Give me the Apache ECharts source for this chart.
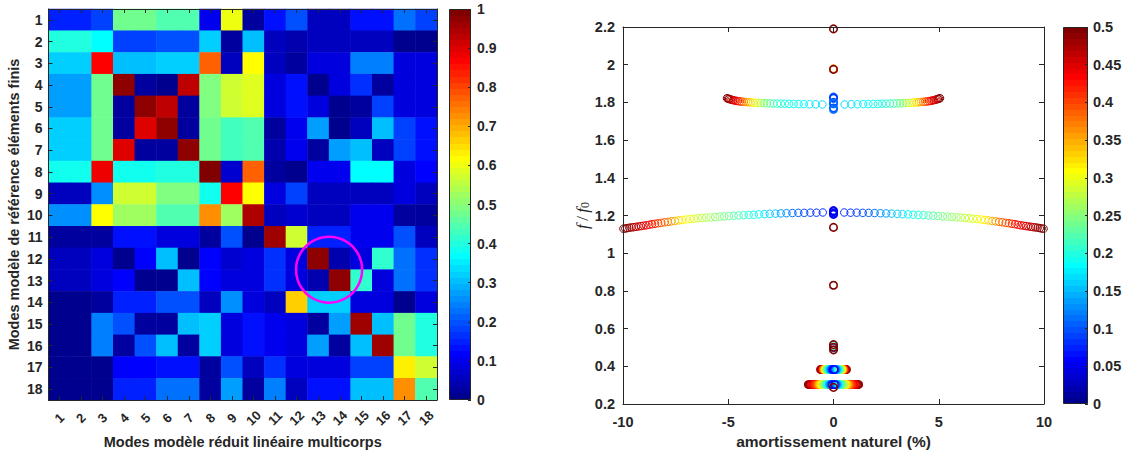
<!DOCTYPE html>
<html>
<head>
<meta charset="utf-8">
<script src="https://cdn.jsdelivr.net/npm/echarts@6/dist/echarts.min.js"></script>
<style>
html,body{margin:0;padding:0;background:#fff;}
#c{width:1124px;height:453px;}
</style>
</head>
<body>
<div id="c"></div>
<script>
// ---------------- DATA ----------------
const modes = ['1','2','3','4','5','6','7','8','9','10','11','12','13','14','15','16','17','18'];
const xTitleLeft = 'Modes modèle réduit linéaire multicorps';
const yTitleLeft = 'Modes modèle de référence éléments finis';
const xTitleRight = 'amortissement naturel (%)';

// MAC matrix, one array per reference mode (row), columns = reduced model modes
const macRows = [
  [0.15,0.15,0.18,0.47,0.47,0.44,0.44,0.10,0.60,0.02,0.13,0.20,0.05,0.05,0.13,0.13,0.22,0.18],
  [0.40,0.40,0.36,0.18,0.18,0.20,0.20,0.32,0.02,0.30,0.05,0.04,0.06,0.06,0.05,0.05,0.01,0.01],
  [0.32,0.32,0.86,0.30,0.30,0.32,0.32,0.77,0.05,0.62,0.05,0.03,0.09,0.09,0.24,0.24,0.08,0.08],
  [0.27,0.27,0.47,0.98,0.02,0.01,0.93,0.49,0.57,0.58,0.08,0.13,0.01,0.08,0.16,0.02,0.09,0.08],
  [0.27,0.27,0.47,0.02,0.98,0.93,0.02,0.49,0.57,0.58,0.08,0.13,0.08,0.01,0.02,0.18,0.09,0.08],
  [0.32,0.32,0.47,0.02,0.90,0.98,0.02,0.47,0.43,0.45,0.03,0.10,0.27,0.01,0.06,0.30,0.18,0.13],
  [0.32,0.32,0.47,0.90,0.03,0.03,0.98,0.47,0.43,0.45,0.04,0.10,0.02,0.27,0.30,0.06,0.18,0.13],
  [0.38,0.38,0.89,0.38,0.38,0.40,0.40,0.99,0.07,0.78,0.03,0.01,0.10,0.10,0.36,0.36,0.09,0.11],
  [0.05,0.05,0.25,0.57,0.57,0.49,0.49,0.38,0.87,0.61,0.08,0.18,0.06,0.06,0.05,0.05,0.08,0.05],
  [0.25,0.25,0.62,0.52,0.52,0.45,0.45,0.73,0.52,0.94,0.05,0.07,0.06,0.06,0.10,0.10,0.02,0.02],
  [0.03,0.03,0.02,0.13,0.13,0.08,0.08,0.03,0.20,0.01,0.96,0.57,0.15,0.15,0.10,0.10,0.20,0.06],
  [0.06,0.06,0.08,0.01,0.12,0.30,0.01,0.12,0.07,0.08,0.16,0.08,0.98,0.04,0.09,0.41,0.22,0.16],
  [0.06,0.06,0.08,0.12,0.01,0.01,0.30,0.12,0.08,0.08,0.16,0.08,0.04,0.98,0.41,0.09,0.22,0.16],
  [0.01,0.01,0.02,0.15,0.15,0.20,0.20,0.06,0.25,0.08,0.05,0.66,0.32,0.32,0.08,0.08,0.01,0.08],
  [0.01,0.01,0.24,0.20,0.02,0.02,0.30,0.32,0.08,0.13,0.10,0.08,0.02,0.27,0.96,0.30,0.47,0.40],
  [0.01,0.01,0.24,0.02,0.20,0.30,0.02,0.32,0.08,0.13,0.10,0.08,0.27,0.02,0.30,0.96,0.47,0.40],
  [0.01,0.01,0.01,0.12,0.12,0.13,0.13,0.03,0.20,0.06,0.16,0.08,0.08,0.08,0.18,0.18,0.64,0.57],
  [0.01,0.01,0.01,0.15,0.15,0.22,0.22,0.02,0.28,0.02,0.24,0.06,0.13,0.13,0.30,0.30,0.73,0.45]
];
const macMin = 0, macMax = 1, macStep = 0.1;
// highlighted block: cells (12,13)-(13,14)
const highlight = {colA: 13, colB: 14, rowA: 12, rowB: 13, radiusCells: 1.53};

// Root locus: lower branch (f/f0 ~ 1.2)
const lowLeftX = [-9.98,-9.89,-9.80,-9.70,-9.59,-9.49,-9.38,-9.26,-9.14,-9.02,-8.89,-8.75,-8.62,-8.48,-8.33,-8.18,-8.02,-7.87,-7.70,-7.54,-7.36,-7.19,-7.01,-6.82,-6.63,-6.44,-6.24,-6.04,-5.84,-5.62,-5.41,-5.19,-4.97,-4.74,-4.51,-4.27,-4.03,-3.79,-3.54,-3.28,-3.03,-2.76,-2.50,-2.23,-1.95,-1.67,-1.39,-1.10,-0.81,-0.51];
const lowRightX = [9.98,9.89,9.80,9.70,9.59,9.49,9.38,9.26,9.14,9.02,8.89,8.75,8.62,8.48,8.33,8.18,8.02,7.87,7.70,7.54,7.36,7.19,7.01,6.82,6.63,6.44,6.24,6.04,5.84,5.62,5.41,5.19,4.97,4.74,4.51,4.27,4.03,3.79,3.54,3.28,3.03,2.76,2.50,2.23,1.95,1.67,1.39,1.10,0.81,0.51];
const lowY = [1.130,1.131,1.133,1.135,1.137,1.138,1.140,1.142,1.144,1.146,1.148,1.151,1.154,1.156,1.159,1.161,1.164,1.166,1.169,1.171,1.174,1.176,1.179,1.181,1.183,1.185,1.187,1.189,1.190,1.192,1.194,1.195,1.197,1.199,1.200,1.202,1.203,1.204,1.206,1.207,1.209,1.210,1.211,1.212,1.213,1.214,1.214,1.215,1.215,1.216];
const lowC = [0.50,0.495,0.49,0.485,0.48,0.47,0.465,0.46,0.455,0.45,0.44,0.435,0.425,0.415,0.405,0.395,0.385,0.375,0.36,0.345,0.33,0.32,0.31,0.30,0.29,0.285,0.275,0.27,0.265,0.255,0.25,0.24,0.235,0.225,0.22,0.21,0.20,0.19,0.18,0.17,0.16,0.15,0.14,0.125,0.115,0.105,0.10,0.09,0.085,0.08];

// upper branch (f/f0 ~ 1.8)
const upLeftX = [-5.06,-5.01,-4.96,-4.90,-4.84,-4.77,-4.70,-4.62,-4.54,-4.45,-4.36,-4.26,-4.16,-4.05,-3.94,-3.82,-3.70,-3.57,-3.44,-3.30,-3.16,-3.01,-2.85,-2.68,-2.50,-2.31,-2.11,-1.89,-1.66,-1.41,-1.14,-0.85,-0.53];
const upRightX = [5.06,5.01,4.96,4.90,4.84,4.77,4.70,4.62,4.54,4.45,4.36,4.26,4.16,4.05,3.94,3.82,3.70,3.57,3.44,3.30,3.16,3.01,2.85,2.68,2.50,2.31,2.11,1.89,1.66,1.41,1.14,0.85,0.53];
const upY = [1.822,1.820,1.818,1.816,1.814,1.812,1.810,1.808,1.807,1.805,1.804,1.803,1.802,1.801,1.800,1.799,1.798,1.797,1.797,1.796,1.795,1.795,1.794,1.794,1.793,1.793,1.792,1.792,1.791,1.791,1.790,1.790,1.789];
const upC = [0.50,0.495,0.49,0.48,0.47,0.46,0.45,0.44,0.43,0.42,0.40,0.38,0.365,0.35,0.33,0.315,0.30,0.285,0.27,0.255,0.24,0.23,0.22,0.21,0.205,0.20,0.195,0.19,0.185,0.18,0.175,0.17,0.165];

// low-frequency bands
const bandHighY = 0.383;
const bandHighLeftX = [-0.62,-0.60,-0.58,-0.56,-0.54,-0.52,-0.50,-0.48,-0.46,-0.44,-0.42,-0.40,-0.37,-0.34,-0.31,-0.28,-0.25,-0.22,-0.19,-0.16,-0.13,-0.10,-0.07,-0.04,-0.02];
const bandHighRightX = [0.62,0.60,0.58,0.56,0.54,0.52,0.50,0.48,0.46,0.44,0.42,0.40,0.37,0.34,0.31,0.28,0.25,0.22,0.19,0.16,0.13,0.10,0.07,0.04,0.02];
const bandHighC = [0.50,0.49,0.48,0.47,0.46,0.44,0.42,0.40,0.38,0.36,0.34,0.32,0.30,0.28,0.26,0.24,0.22,0.20,0.18,0.16,0.14,0.12,0.10,0.08,0.06];
const bandLowY = 0.303;
const bandLowLeftX = [-1.20,-1.16,-1.12,-1.08,-1.04,-1.00,-0.96,-0.92,-0.88,-0.84,-0.80,-0.76,-0.72,-0.68,-0.64,-0.60,-0.56,-0.52,-0.48,-0.44,-0.40,-0.36,-0.32,-0.28,-0.24,-0.20,-0.16,-0.12,-0.08,-0.04];
const bandLowRightX = [1.20,1.16,1.12,1.08,1.04,1.00,0.96,0.92,0.88,0.84,0.80,0.76,0.72,0.68,0.64,0.60,0.56,0.52,0.48,0.44,0.40,0.36,0.32,0.28,0.24,0.20,0.16,0.12,0.08,0.04];
const bandLowC = [0.50,0.49,0.48,0.47,0.46,0.45,0.44,0.43,0.42,0.41,0.40,0.385,0.37,0.355,0.34,0.325,0.31,0.295,0.28,0.265,0.25,0.235,0.22,0.20,0.18,0.16,0.14,0.11,0.08,0.05];

// undamped points (x = 0)
const axisY = [1.828,1.822,1.800,1.793,1.770,1.764,1.226,1.221,1.212,1.206,0.512,0.498,2.190,1.978,1.975,1.137,0.830,0.515,0.501,0.487,0.288];
const axisC = [0.10,0.09,0.10,0.11,0.10,0.11,0.06,0.05,0.06,0.05,0.20,0.12,0.50,0.36,0.50,0.50,0.50,0.50,0.50,0.50,0.50];

const dampMin = 0, dampMax = 0.5, dampStep = 0.05;

// ---------------- STYLE HELPERS ----------------
const FONT = "'Liberation Sans', Arial, Helvetica, sans-serif";
const SERIF = "'Liberation Serif', 'DejaVu Serif', serif";
const TXT = '#262626';

function buildJet(n) { // MATLAB jet(n) colormap
  const m = Math.ceil(n / 4);
  const u = [];
  for (let i = 1; i <= m; i++) u.push(i / m);
  for (let i = 1; i < m; i++) u.push(1);
  for (let i = m; i >= 1; i--) u.push(i / m);
  const g0 = Math.ceil(m / 2) - (n % 4 === 1 ? 1 : 0);
  const J = [];
  for (let i = 0; i < n; i++) J.push([0, 0, 0]);
  for (let k = 0; k < u.length; k++) {
    const g = g0 + k, r = g + m, b = g - m; // 0-based
    if (g >= 0 && g < n) J[g][1] = u[k];
    if (r >= 0 && r < n) J[r][0] = u[k];
    if (b >= 0 && b < n) J[b][2] = u[k];
  }
  return J.map(c => 'rgb(' + c.map(v => Math.round(v * 255)).join(',') + ')');
}
const JET = buildJet(64);
function jetColor(t) {
  let i = Math.floor(t * 64);
  if (i < 0) i = 0; if (i > 63) i = 63;
  return JET[i];
}
function jetGradient() {
  const stops = [];
  for (let i = 0; i < 64; i++) {
    stops.push({offset: i / 64, color: JET[i]});
    stops.push({offset: (i + 1) / 64, color: JET[i]});
  }
  return new echarts.graphic.LinearGradient(0, 1, 0, 0, stops);
}
function jetPieces(lo, hi) {
  const p = [];
  for (let i = 0; i < 64; i++) {
    const a = lo + (hi - lo) * i / 64, b = lo + (hi - lo) * (i + 1) / 64;
    if (i < 63) p.push({gte: a, lt: b, color: JET[i]});
    else p.push({gte: a, lte: b + 1e-9, color: JET[i]});
  }
  return p;
}

// heatmap data
const heatData = [];
macRows.forEach((row, r) => row.forEach((v, c) => heatData.push([c, r, v])));

// scatter data
const scatterPts = [];
function addGroup(xs, ys, cs, bw) {
  xs.forEach((x, i) => {
    const y = Array.isArray(ys) ? ys[i] : ys;
    const c = cs[i];
    scatterPts.push({
      value: [x, y, c],
      itemStyle: {color: 'rgba(0,0,0,0)', borderColor: jetColor((c - dampMin) / (dampMax - dampMin)), borderWidth: bw}
    });
  });
}
addGroup(lowLeftX, lowY, lowC, 1);
addGroup(lowRightX, lowY, lowC, 1);
addGroup(upLeftX, upY, upC, 1);
addGroup(upRightX, upY, upC, 1);
addGroup(bandHighLeftX, bandHighY, bandHighC, 1.2);
addGroup(bandHighRightX, bandHighY, bandHighC, 1.2);
addGroup(bandLowLeftX, bandLowY, bandLowC, 1.2);
addGroup(bandLowRightX, bandLowY, bandLowC, 1.2);
addGroup(axisY.map(() => 0), axisY, axisC, 1.6);

const tickLabel = {color: TXT, fontWeight: 'bold', fontSize: 14, fontFamily: FONT};
const tickLabelR = {color: TXT, fontWeight: 'bold', fontSize: 14.5, fontFamily: FONT};
const axLine = {show: true, onZero: false, lineStyle: {color: TXT, width: 1}};
function tickIn(len) { return {show: true, inside: true, length: len, lineStyle: {color: TXT, width: 1}}; }
const titleStyle = {color: TXT, fontWeight: 'bold', fontSize: 14.5, fontFamily: FONT};
const fmt2 = v => String(+(+v).toFixed(2));

const option = {
  animation: false,
  backgroundColor: '#ffffff',
  textStyle: {fontFamily: FONT},
  grid: [
    {left: 48.5, top: 9, width: 388.5, height: 391, outerBoundsMode: 'none', containLabel: false},
    {left: 449, top: 9, width: 22, height: 391, outerBoundsMode: 'none', containLabel: false},
    {left: 623, top: 27, width: 421, height: 377, outerBoundsMode: 'none', containLabel: false},
    {left: 1063, top: 27, width: 25, height: 377, outerBoundsMode: 'none', containLabel: false}
  ],
  visualMap: [{type: 'piecewise', show: false, seriesIndex: 0, dimension: 2, pieces: jetPieces(macMin, macMax)}],
  xAxis: [
    {type: 'category', gridIndex: 0, data: modes, position: 'bottom', z: 10,
     axisLine: axLine, axisTick: Object.assign(tickIn(4), {alignWithLabel: true, interval: 0}),
     axisLabel: Object.assign({}, tickLabel, {fontSize: 13, rotate: 45, align: 'center', verticalAlign: 'middle', margin: 18, interval: 0}),
     splitLine: {show: false},
     name: xTitleLeft, nameLocation: 'middle', nameGap: 32, nameTextStyle: titleStyle},
    {type: 'category', gridIndex: 0, data: modes, position: 'top', z: 10,
     axisLine: axLine, axisTick: Object.assign(tickIn(4), {alignWithLabel: true, interval: 0}),
     axisLabel: {show: false}, splitLine: {show: false}},
    {type: 'category', gridIndex: 1, data: ['cb'], show: false},
    {type: 'value', gridIndex: 2, min: -10, max: 10, interval: 5, position: 'bottom', z: 10,
     axisLine: axLine, axisTick: tickIn(5), axisLabel: Object.assign({}, tickLabelR, {margin: 10}),
     splitLine: {show: false},
     name: xTitleRight, nameLocation: 'middle', nameGap: 28, nameTextStyle: Object.assign({}, titleStyle, {fontSize: 15.5})},
    {type: 'value', gridIndex: 2, min: -10, max: 10, interval: 5, position: 'top', z: 10,
     axisLine: axLine, axisTick: tickIn(5), axisLabel: {show: false}, splitLine: {show: false}},
    {type: 'category', gridIndex: 3, data: ['cb'], show: false}
  ],
  yAxis: [
    {type: 'category', gridIndex: 0, data: modes, inverse: true, position: 'left', z: 10,
     axisLine: axLine, axisTick: Object.assign(tickIn(4), {alignWithLabel: true, interval: 0}),
     axisLabel: Object.assign({}, tickLabel, {margin: 6, interval: 0}), splitLine: {show: false},
     name: yTitleLeft, nameLocation: 'middle', nameGap: 27, nameTextStyle: titleStyle},
    {type: 'category', gridIndex: 0, data: modes, inverse: true, position: 'right', z: 10,
     axisLine: axLine, axisTick: Object.assign(tickIn(4), {alignWithLabel: true, interval: 0}),
     axisLabel: {show: false}, splitLine: {show: false}},
    {type: 'value', gridIndex: 1, min: macMin, max: macMax, interval: macStep, position: 'right', z: 10,
     axisLine: {show: false}, axisTick: tickIn(3), axisLabel: Object.assign({}, tickLabel, {margin: 6, formatter: fmt2}),
     splitLine: {show: false}},
    {type: 'value', gridIndex: 2, min: 0.2, max: 2.2, interval: 0.2, position: 'left', z: 10,
     axisLine: axLine, axisTick: tickIn(5), axisLabel: Object.assign({}, tickLabelR, {margin: 8, formatter: fmt2}),
     splitLine: {show: false},
     name: '{i|f} {n|/} {i|f}{s|0}', nameLocation: 'middle', nameGap: 31, nameRotate: 90,
     nameTextStyle: {color: TXT, rich: {
       i: {fontFamily: SERIF, fontStyle: 'italic', fontSize: 17, color: TXT},
       n: {fontFamily: SERIF, fontSize: 17, color: TXT},
       s: {fontFamily: SERIF, fontSize: 12, color: TXT, verticalAlign: 'bottom'}
     }}},
    {type: 'value', gridIndex: 2, min: 0.2, max: 2.2, interval: 0.2, position: 'right', z: 10,
     axisLine: axLine, axisTick: tickIn(5), axisLabel: {show: false}, splitLine: {show: false}},
    {type: 'value', gridIndex: 3, min: dampMin, max: dampMax, interval: dampStep, position: 'right', z: 10,
     axisLine: {show: false}, axisTick: tickIn(3), axisLabel: Object.assign({}, tickLabelR, {margin: 5, formatter: fmt2}),
     splitLine: {show: false}}
  ],
  series: [
    {type: 'heatmap', xAxisIndex: 0, yAxisIndex: 0, data: heatData, z: 1, silent: true,
     itemStyle: {borderWidth: 0}, emphasis: {disabled: true}, progressive: 0},
    {type: 'custom', xAxisIndex: 0, yAxisIndex: 0, z: 20, silent: true, clip: false,
     data: [[highlight.colA - 1, highlight.rowA - 1]],
     renderItem: function (params, api) {
       const p1 = api.coord([highlight.colA - 1, highlight.rowA - 1]);
       const p2 = api.coord([highlight.colB - 1, highlight.rowB - 1]);
       const cw = Math.abs(p2[0] - p1[0]);
       return {type: 'circle',
         shape: {cx: (p1[0] + p2[0]) / 2, cy: (p1[1] + p2[1]) / 2, r: highlight.radiusCells * cw},
         style: {fill: 'none', stroke: '#ff00ff', lineWidth: 2.5}};
     }},
    {type: 'bar', xAxisIndex: 2, yAxisIndex: 2, data: [macMax], barWidth: '100%', silent: true, z: 1,
     itemStyle: {color: jetGradient(), borderColor: TXT, borderWidth: 1}},
    {type: 'scatter', xAxisIndex: 3, yAxisIndex: 3, data: scatterPts, symbol: 'circle', symbolSize: 7.5,
     silent: true, itemStyle: {opacity: 1}, emphasis: {disabled: true}, z: 2},
    {type: 'bar', xAxisIndex: 5, yAxisIndex: 5, data: [dampMax], barWidth: '100%', silent: true, z: 1,
     itemStyle: {color: jetGradient(), borderColor: TXT, borderWidth: 1}}
  ]
};

const chart = echarts.init(document.getElementById('c'), null, {renderer: 'svg', width: 1124, height: 453});
chart.setOption(option);
</script>
</body>
</html>
